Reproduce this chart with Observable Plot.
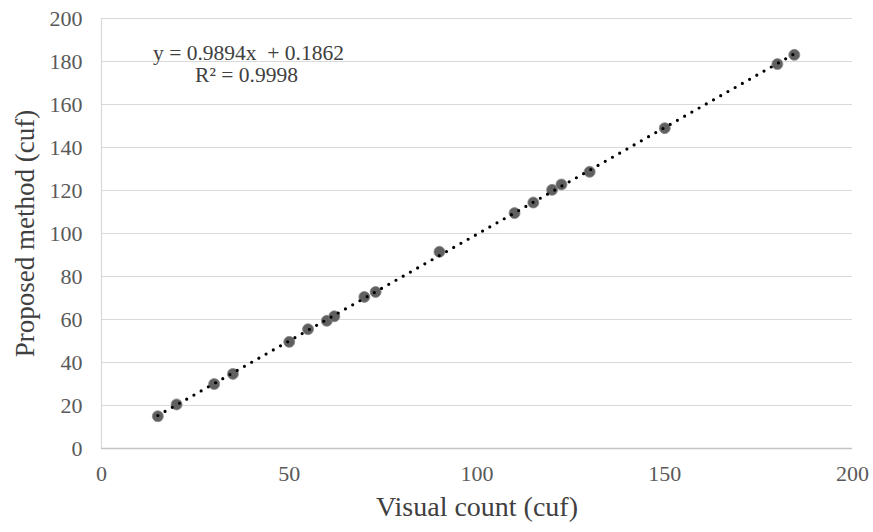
<!DOCTYPE html>
<html>
<head>
<meta charset="utf-8">
<script src="https://cdn.jsdelivr.net/npm/d3@7"></script>
<script src="https://cdn.jsdelivr.net/npm/@observablehq/plot@0.6"></script>
<style>
  html, body { margin: 0; padding: 0; background: #fff; }
  #chart svg { display: block; }
</style>
</head>
<body>
<div id="chart"></div>
<script>
// Data
const visualCount   = [15, 20, 30, 35, 50, 55, 60, 62, 70, 73, 90, 110, 115, 120, 122.5, 130, 150, 180, 184.5];
const proposedCount = [15, 20.5, 30, 34.7, 49.6, 55.5, 59.4, 61.5, 70.5, 72.8, 91.5, 109.5, 114.4, 120.3, 122.8, 128.7, 149, 178.8, 183.1];
const xTicks = [0, 50, 100, 150, 200];
const yTicks = [0, 20, 40, 60, 80, 100, 120, 140, 160, 180, 200];
const xTitle = "Visual count (cuf)";
const yTitle = "Proposed method (cuf)";
const equationLine = "y = 0.9894x  + 0.1862";
const r2Line = "R² = 0.9998";

const points = visualCount.map((v, i) => ({x: v, y: proposedCount[i]}));

const chart = Plot.plot({
  width: 873,
  height: 532,
  marginLeft: 101,
  marginRight: 21,
  marginTop: 18,
  marginBottom: 84,
  style: {fontFamily: "'Liberation Serif', 'Times New Roman', serif", background: "#fff"},
  x: {domain: [0, 200]},
  y: {domain: [0, 200]},
  marks: [
    Plot.gridY(yTicks, {stroke: "#d9d9d9", strokeOpacity: 1, strokeWidth: 1.2}),
    Plot.ruleX([0], {stroke: "#d9d9d9", strokeWidth: 1.2}),
    Plot.ruleY([0], {stroke: "#c4c4c4", strokeWidth: 1.4}),
    Plot.axisX(xTicks, {tickSize: 0, tickPadding: 17, fontSize: 22, fill: "#595959", label: null}),
    Plot.axisY(yTicks, {tickSize: 0, tickPadding: 19, fontSize: 22, fill: "#595959", label: null}),
    Plot.dot(points, {x: "x", y: "y", r: 5.5, fill: "#606060", stroke: "#8a8a8a", strokeWidth: 0.8}),
    Plot.linearRegressionY(points, {x: "x", y: "y", stroke: "#000", strokeWidth: 3.2, strokeDasharray: "0 8.3", strokeLinecap: "round", ci: 0}),
    Plot.text([equationLine], {frameAnchor: "top-left", dx: 147, dy: 26, textAnchor: "middle", fontSize: 21.5, fill: "#404040"}),
    Plot.text([r2Line], {frameAnchor: "top-left", dx: 145, dy: 48, textAnchor: "middle", fontSize: 21.5, fill: "#404040"}),
    Plot.text([xTitle], {frameAnchor: "bottom", dy: 67, fontSize: 28, fill: "#404040"}),
    Plot.text([yTitle], {frameAnchor: "left", dx: -76, rotate: -90, textAnchor: "middle", fontSize: 27, fill: "#404040"})
  ]
});
document.getElementById("chart").appendChild(chart);
</script>
</body>
</html>
